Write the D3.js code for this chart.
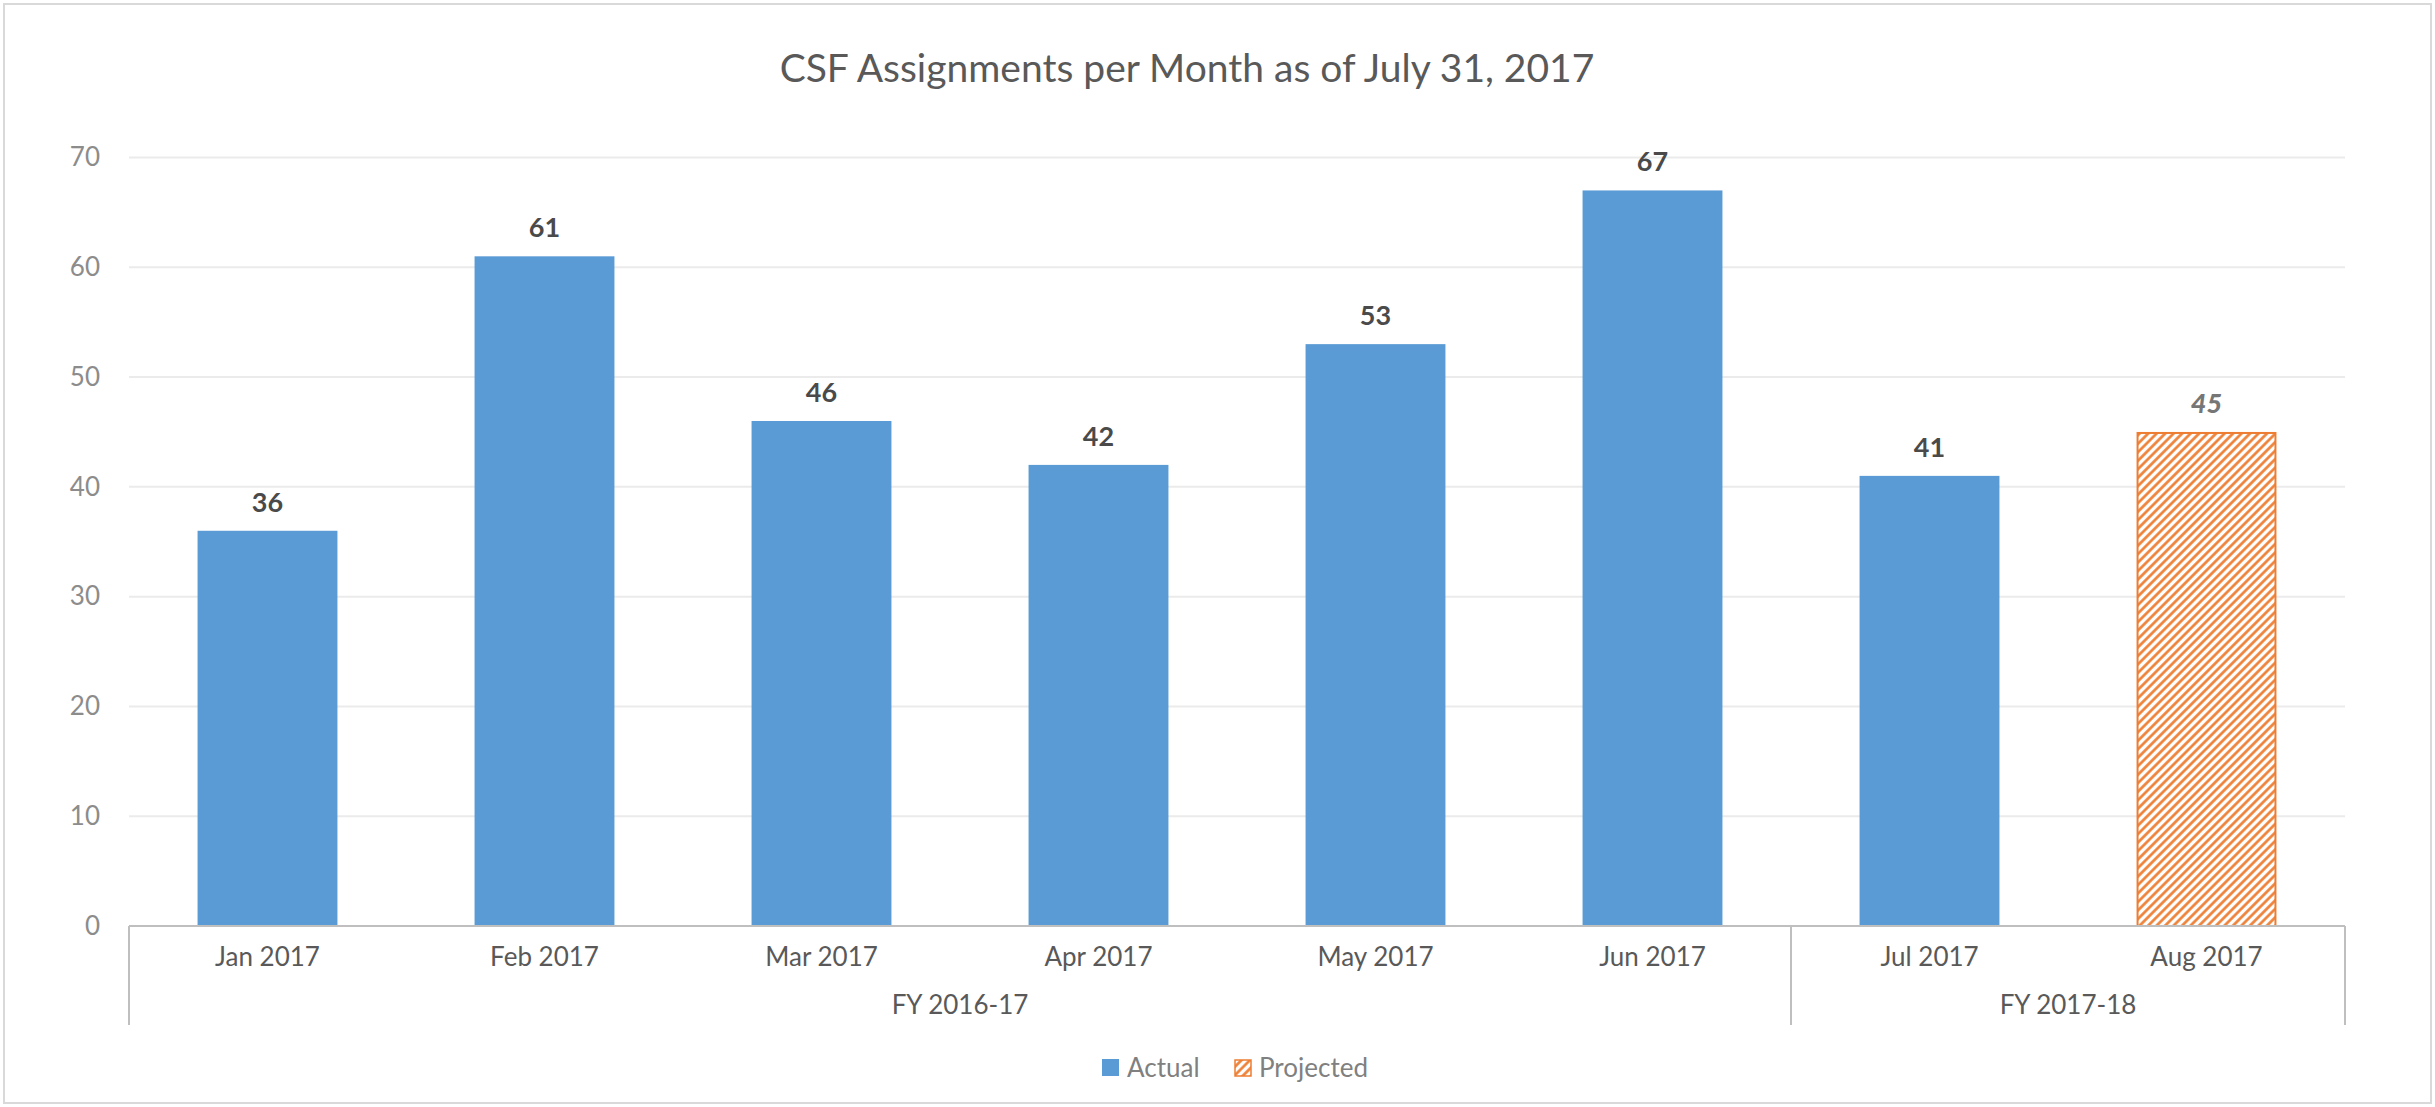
<!DOCTYPE html>
<html><head><meta charset="utf-8">
<script src="https://cdn.jsdelivr.net/npm/d3@7"></script>
<style>html,body{margin:0;padding:0;background:#fff;}svg{display:block;font-family:Lato,"Open Sans",sans-serif;}</style>
</head><body>
<svg id="chart" width="2435" height="1107"></svg>
<script>
const title = "CSF Assignments per Month as of July 31, 2017";
const months = ["Jan 2017","Feb 2017","Mar 2017","Apr 2017","May 2017","Jun 2017","Jul 2017","Aug 2017"];
const fiscalYears = ["FY 2016-17","FY 2016-17","FY 2016-17","FY 2016-17","FY 2016-17","FY 2016-17","FY 2017-18","FY 2017-18"];
const actual = [36,61,46,42,53,67,41,null];
const projected = [null,null,null,null,null,null,null,45];
const yTicks = [0,10,20,30,40,50,60,70];
const seriesNames = ["Actual","Projected"];

const svg = d3.select("#chart");
const W = 2435, H = 1107;
const left = 129, right = 2345, y0px = 926, ytop = 157.5;

svg.append("rect").attr("x",4).attr("y",4).attr("width",W-8).attr("height",H-8)
  .attr("fill","#fff").attr("stroke","#d9d9d9").attr("stroke-width",2);

const defs = svg.append("defs");
const pat = defs.append("pattern").attr("id","hatch").attr("patternUnits","userSpaceOnUse")
  .attr("width",6).attr("height",6).attr("patternTransform","rotate(45)");
pat.append("rect").attr("width",6).attr("height",6).attr("fill","#fff");
pat.append("line").attr("x1",1.5).attr("y1",0).attr("x2",1.5).attr("y2",6)
  .attr("stroke","#ED7D31").attr("stroke-width",2.6);

const x = d3.scaleBand().domain(months).range([left,right]).paddingInner(0.495).paddingOuter(0.2475);
const y = d3.scaleLinear().domain([0,70]).range([y0px,ytop]);

// title
svg.append("text").attr("x",1187).attr("y",82).attr("text-anchor","middle")
  .attr("font-size",39).attr("fill","#595959").text(title);

// gridlines
svg.append("g").selectAll("line").data(yTicks.filter(d=>d>0)).join("line")
  .attr("x1",left).attr("x2",right).attr("y1",d=>y(d)).attr("y2",d=>y(d))
  .attr("stroke","#ebebeb").attr("stroke-width",2);

// y axis labels
const yAxis = d3.axisLeft(y).tickValues(yTicks).tickSize(0).tickPadding(0);
const gy = svg.append("g").attr("transform",`translate(100,0)`).call(yAxis);
gy.select(".domain").remove();
gy.selectAll("text").attr("font-size",26).attr("fill","#8c8c8c").attr("font-family","Lato");

// bars actual
svg.append("g").selectAll("rect").data(months.map((m,i)=>({m,v:actual[i]})).filter(d=>d.v!=null)).join("rect")
  .attr("x",d=>x(d.m)).attr("width",x.bandwidth()).attr("y",d=>y(d.v)).attr("height",d=>y(0)-y(d.v))
  .attr("fill","#5B9BD5");
// bars projected
svg.append("g").selectAll("rect").data(months.map((m,i)=>({m,v:projected[i]})).filter(d=>d.v!=null)).join("rect")
  .attr("x",d=>x(d.m)+1).attr("width",x.bandwidth()-2).attr("y",d=>y(d.v)+1).attr("height",d=>y(0)-y(d.v)-1)
  .attr("fill","url(#hatch)").attr("stroke","#ED7D31").attr("stroke-width",2);

// value labels
svg.append("g").selectAll("text").data(months.map((m,i)=>({m,v:actual[i]})).filter(d=>d.v!=null)).join("text")
  .attr("x",d=>x(d.m)+x.bandwidth()/2).attr("y",d=>y(d.v)-19).attr("text-anchor","middle")
  .attr("font-size",27).attr("font-weight","bold").attr("fill","#4a4a4a").text(d=>d.v);
svg.append("g").selectAll("text").data(months.map((m,i)=>({m,v:projected[i]})).filter(d=>d.v!=null)).join("text")
  .attr("x",d=>x(d.m)+x.bandwidth()/2).attr("y",d=>y(d.v)-19).attr("text-anchor","middle")
  .attr("font-size",27).attr("font-weight",900).attr("font-style","italic").attr("fill","#767676").text(d=>d.v);

// x axis line
svg.append("line").attr("x1",left).attr("x2",right).attr("y1",y0px).attr("y2",y0px)
  .attr("stroke","#bfbfbf").attr("stroke-width",2);

// month labels via axis
const xAxis = d3.axisBottom(x).tickSize(0).tickPadding(0);
const gx = svg.append("g").attr("transform",`translate(0,${y0px})`).call(xAxis);
gx.select(".domain").remove();
gx.selectAll("text").attr("font-size",26).attr("fill","#595959").attr("font-family","Lato")
  .attr("dy",null).attr("y",40);

// group labels and separators
const groups = [];
fiscalYears.forEach((g,i)=>{
  if(!groups.length || groups[groups.length-1].name!==g) groups.push({name:g,start:i,end:i});
  else groups[groups.length-1].end=i;
});
const step = x.step();
const bounds = [left];
groups.forEach(g=>{ bounds.push(x(months[g.end]) + x.bandwidth() + step*x.paddingInner()/2); });
bounds[bounds.length-1] = right;
svg.append("g").selectAll("line").data(bounds).join("line")
  .attr("x1",d=>d).attr("x2",d=>d).attr("y1",y0px).attr("y2",1025)
  .attr("stroke","#bfbfbf").attr("stroke-width",2);
svg.append("g").selectAll("text").data(groups).join("text")
  .attr("x",(d,i)=>(bounds[i]+bounds[i+1])/2).attr("y",1014).attr("text-anchor","middle")
  .attr("font-size",26).attr("fill","#595959").text(d=>d.name);

// legend
const lg = svg.append("g");
lg.append("rect").attr("x",1102).attr("y",1059).attr("width",17).attr("height",17).attr("fill","#5B9BD5");
lg.append("text").attr("x",1127).attr("y",1077).attr("font-size",26).attr("fill","#808080").text(seriesNames[0]);
lg.append("rect").attr("x",1235).attr("y",1060).attr("width",16).attr("height",16)
  .attr("fill","url(#hatch)").attr("stroke","#ED7D31").attr("stroke-width",1.5);
lg.append("text").attr("x",1259).attr("y",1077).attr("font-size",26).attr("fill","#808080").text(seriesNames[1]);
</script>
</body></html>
